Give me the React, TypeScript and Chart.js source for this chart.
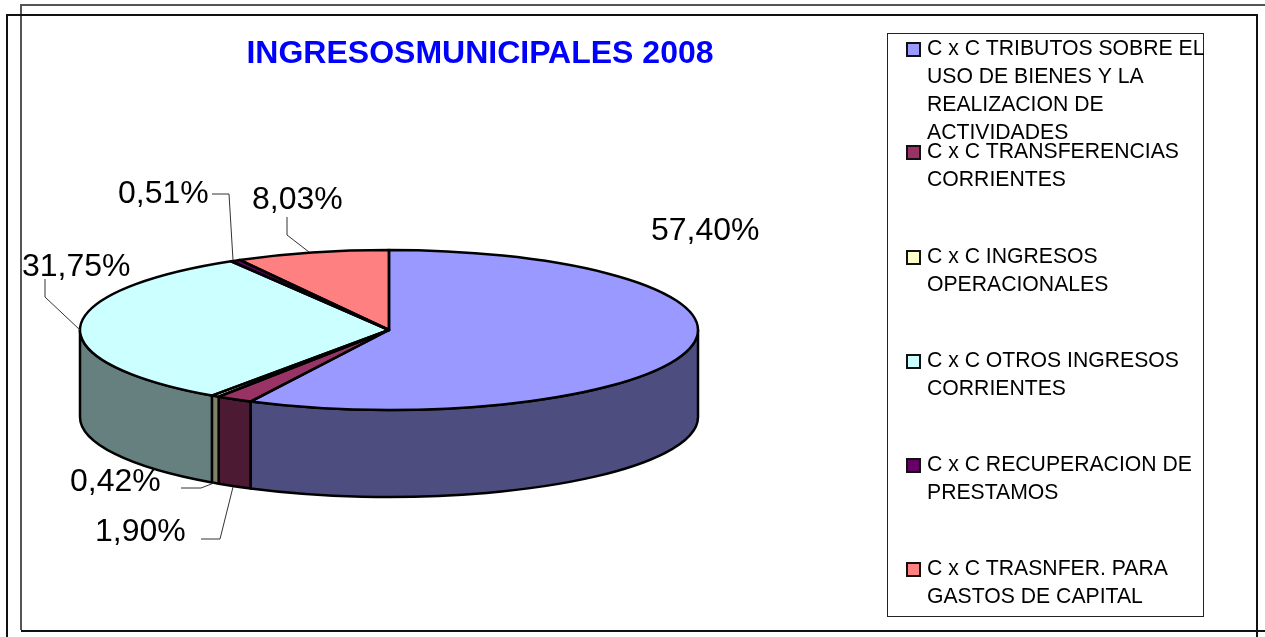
import React, { useEffect, useRef } from "react";
import { Chart, registerables } from "chart.js";

Chart.register(...registerables);

const categoryLines: string[][] = [
  ["C x C TRIBUTOS SOBRE EL", "USO DE BIENES Y LA", "REALIZACION DE", "ACTIVIDADES"],
  ["C x C TRANSFERENCIAS", "CORRIENTES"],
  ["C x C INGRESOS", "OPERACIONALES"],
  ["C x C OTROS INGRESOS", "CORRIENTES"],
  ["C x C RECUPERACION DE", "PRESTAMOS"],
  ["C x C TRASNFER. PARA", "GASTOS DE CAPITAL"],
];
const shares = [57.4, 1.9, 0.42, 31.75, 0.51, 8.03];
const topColors = ["#9999FF", "#993366", "#FFFFCC", "#CCFFFF", "#660066", "#FF8080"];
const wallColors = ["#4D4D80", "#4D1A33", "#80806B", "#668080", "#330033", "#804040"];
const chartTitle = "INGRESOSMUNICIPALES 2008";

const FONT = '"Liberation Sans", Arial, sans-serif';
const PIE = { cx: 389, cy: 330, rx: 309, ry: 80, depth: 87 };
const LEGEND_BASELINES = [55, 158, 263, 367, 471, 575];
const LABEL_SPOTS = [
  { x: 651, y: 240, leader: [] as number[][] },
  { x: 95, y: 541, leader: [[201, 539], [220, 539], [233, 487]] },
  { x: 70, y: 491, leader: [[181, 488], [201, 488], [214, 483]] },
  { x: 22, y: 276, leader: [[45, 279], [45, 297], [80, 330]] },
  { x: 118, y: 203, leader: [[212, 194], [229, 194], [233, 260]] },
  { x: 252, y: 209, leader: [[287, 217], [287, 235], [309, 252]] },
];

const line = (ctx: CanvasRenderingContext2D, pts: number[][], color: string, width: number) => {
  ctx.beginPath();
  pts.forEach(([x, y], i) => (i ? ctx.lineTo(x, y) : ctx.moveTo(x, y)));
  ctx.strokeStyle = color;
  ctx.lineWidth = width;
  ctx.stroke();
};

const framePlugin = {
  id: "frames",
  beforeDraw(chart: any) {
    const ctx: CanvasRenderingContext2D = chart.ctx;
    ctx.save();
    ctx.fillStyle = "#FFFFFF";
    ctx.fillRect(0, 0, chart.width, chart.height);
    line(ctx, [[21, 630], [21, 5], [1265, 5]], "#555555", 2);
    line(ctx, [[7, 637], [7, 15], [1257, 15], [1257, 637]], "#111111", 2);
    line(ctx, [[21, 631], [1265, 631]], "#111111", 2);
    ctx.restore();
  },
};

const pie3dPlugin = {
  id: "pie3d",
  beforeDatasetDraw(chart: any) {
    const ctx: CanvasRenderingContext2D = chart.ctx;
    const arcs = chart.getDatasetMeta(0).data;
    const { cx, cy, rx, ry, depth } = PIE;
    ctx.save();
    ctx.lineJoin = "round";
    arcs.forEach((arc: any, i: number) => {
      const a0 = Math.max(arc.startAngle, 0);
      const a1 = Math.min(arc.endAngle, Math.PI);
      if (a1 <= a0) return;
      ctx.beginPath();
      ctx.ellipse(cx, cy, rx, ry, 0, a0, a1);
      ctx.ellipse(cx, cy + depth, rx, ry, 0, a1, a0, true);
      ctx.closePath();
      ctx.fillStyle = wallColors[i];
      ctx.fill();
      ctx.strokeStyle = "#000000";
      ctx.lineWidth = 2.5;
      ctx.stroke();
    });
    ctx.restore();

    ctx.save();
    const first = arcs[0];
    const R = first.outerRadius;
    ctx.translate(cx, cy);
    ctx.scale(rx / R, ry / R);
    ctx.translate(-first.x, -first.y);
  },
  afterDatasetDraw(chart: any) {
    const ctx: CanvasRenderingContext2D = chart.ctx;
    ctx.restore();
    const arcs = chart.getDatasetMeta(0).data;
    const { cx, cy, rx, ry } = PIE;
    ctx.save();
    ctx.lineJoin = "round";
    arcs.forEach((arc: any) => {
      ctx.beginPath();
      ctx.moveTo(cx, cy);
      ctx.ellipse(cx, cy, rx, ry, 0, arc.startAngle, arc.endAngle);
      ctx.closePath();
      ctx.strokeStyle = "#000000";
      ctx.lineWidth = 2.5;
      ctx.stroke();
    });
    ctx.restore();
  },
};

const annotationPlugin = {
  id: "annotations",
  afterDraw(chart: any) {
    const ctx: CanvasRenderingContext2D = chart.ctx;
    ctx.save();
    ctx.textBaseline = "alphabetic";
    ctx.textAlign = "left";

    // data labels with leader lines
    ctx.font = `32px ${FONT}`;
    shares.forEach((v, i) => {
      const spot = LABEL_SPOTS[i];
      ctx.fillStyle = "#000000";
      ctx.fillText(`${v.toFixed(2).replace(".", ",")}%`, spot.x, spot.y);
      if (spot.leader.length) line(ctx, spot.leader, "#333333", 1);
    });

    // legend
    ctx.strokeStyle = "#222222";
    ctx.lineWidth = 1;
    ctx.strokeRect(887.5, 33.5, 316, 583);
    ctx.font = `21.2px ${FONT}`;
    categoryLines.forEach((lines, i) => {
      const base = LEGEND_BASELINES[i];
      ctx.fillStyle = topColors[i];
      ctx.fillRect(907, base - 12, 13, 13);
      ctx.strokeStyle = "#111111";
      ctx.lineWidth = 2;
      ctx.strokeRect(907, base - 12, 13, 13);
      ctx.fillStyle = "#000000";
      lines.forEach((t, j) => ctx.fillText(t, 927, base + j * 28));
    });
    ctx.restore();
  },
};

export default function App() {
  const ref = useRef<HTMLCanvasElement | null>(null);
  useEffect(() => {
    if (!ref.current) return;
    const chart = new Chart(ref.current, {
      type: "pie",
      data: {
        labels: categoryLines.map((l) => l.join(" ")),
        datasets: [
          {
            data: shares,
            backgroundColor: topColors,
            borderWidth: 0,
            clip: false,
          } as any,
        ],
      },
      options: {
        responsive: false,
        animation: false,
        layout: { padding: { top: 35, left: 0, right: 305, bottom: 10 } },
        plugins: {
          legend: { display: false },
          tooltip: { enabled: false },
          title: {
            display: true,
            text: chartTitle,
            color: "#0000FF",
            fullSize: false,
            font: { family: FONT, size: 32, weight: "bold" },
            padding: { top: 0, bottom: 10 },
          },
        },
      },
      plugins: [framePlugin, pie3dPlugin, annotationPlugin],
    } as any);
    return () => chart.destroy();
  }, []);
  return (
    <canvas
      ref={ref}
      width={1265}
      height={637}
      style={{ position: "absolute", left: 0, top: 0, display: "block" }}
    />
  );
}
